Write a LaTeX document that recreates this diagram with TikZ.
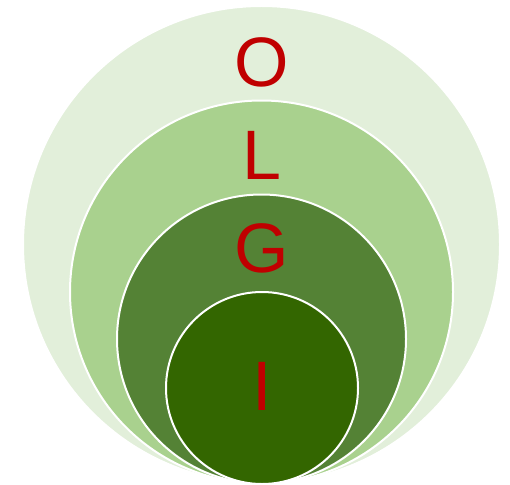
\documentclass[tikz,border=0pt]{standalone}
\usepackage{fontspec}
\setmainfont{Liberation Sans}
\definecolor{c1}{HTML}{E2EFDA}
\definecolor{c2}{HTML}{A9D18E}
\definecolor{c3}{HTML}{548235}
\definecolor{c4}{HTML}{336600}
\definecolor{lettercol}{HTML}{C00000}
\tikzset{
  ring/.style={draw=white, line width=2pt, circle, inner sep=0pt},
  letter/.style={text=lettercol, font=\fontsize{70}{70}\selectfont, anchor=base, inner sep=0pt}
}
\begin{document}
\begin{tikzpicture}[x=1pt,y=-1pt]
\useasboundingbox (0,0) rectangle (510,484);
\node[ring, fill=c1, minimum size=477pt] (o) at (261.5,244.5) {};
\node[ring, fill=c2, minimum size=383pt] (l) at (261.5,292) {};
\node[ring, fill=c3, minimum size=289pt] (g) at (261.5,339) {};
\node[ring, fill=c4, minimum size=192pt] (i) at (262,388) {};
\node[letter] (to) at (261.5,86.5) {O};
\node[letter] (tl) at (262,179) {L};
\node[letter] (tg) at (262,272.5) {G};
\node[letter] (ti) at (262,410) {I};
\end{tikzpicture}
\end{document}
